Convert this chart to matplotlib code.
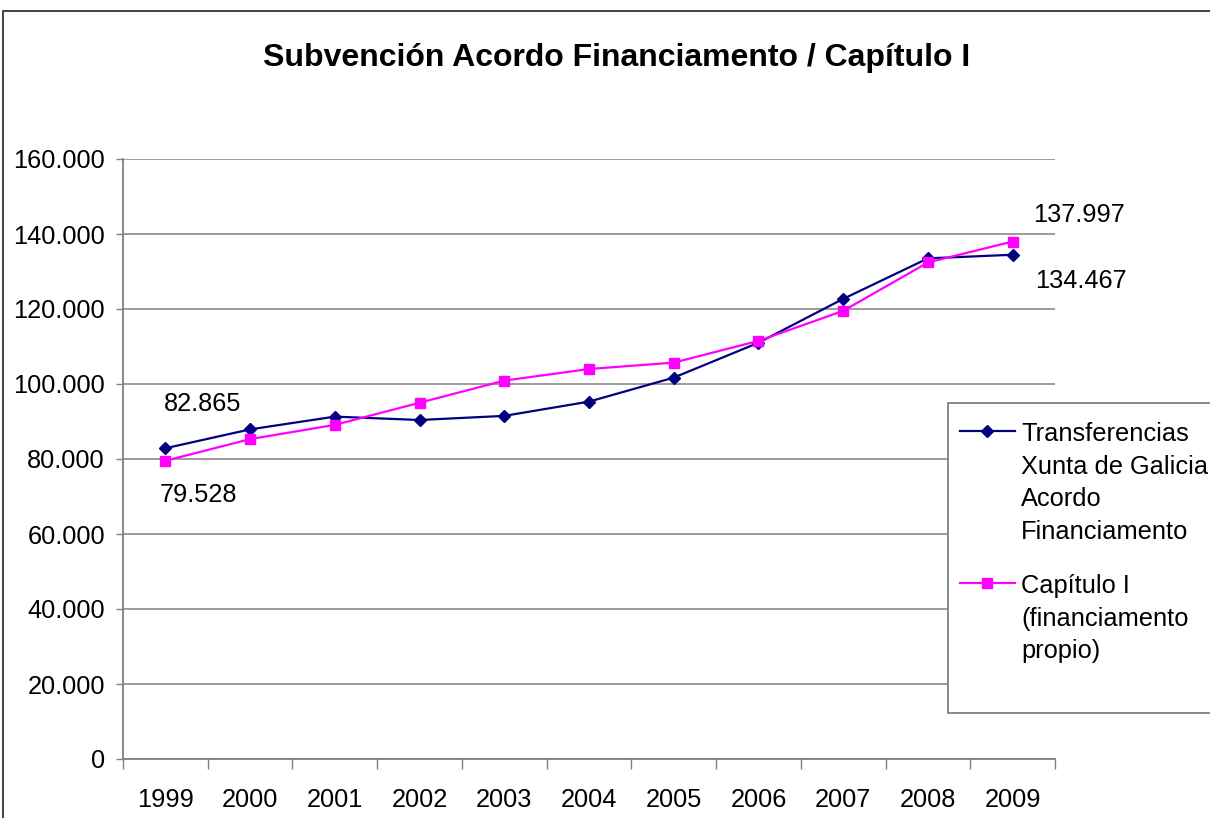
import matplotlib
matplotlib.use("Agg")
import matplotlib.pyplot as plt
from matplotlib.lines import Line2D
from matplotlib.patches import Rectangle
from matplotlib.ticker import FuncFormatter

plt.rcParams['font.family'] = ['Liberation Sans', 'DejaVu Sans']

# --- Data ---
years = ["1999", "2000", "2001", "2002", "2003", "2004",
         "2005", "2006", "2007", "2008", "2009"]
transferencias = [82865, 87900, 91300, 90400, 91500, 95300,
                  101700, 111000, 122700, 133500, 134467]
capitulo_i = [79528, 85300, 89100, 95000, 100900, 104000,
              105700, 111500, 119500, 132400, 137997]

NAVY = "#000080"
MAGENTA = "#FF00FF"
GRID = "#808080"
FS = 18.3

W, H = 1210, 818
fig = plt.figure(figsize=(W / 100, H / 100), dpi=100)
ax = fig.add_axes([123 / W, 1 - 759 / H, 932 / W, 600 / H])

x = list(range(len(years)))
ax.plot(x, transferencias, color=NAVY, lw=1.6, marker="D", ms=6.2,
        mfc=NAVY, mec=NAVY, zorder=3)
ax.plot(x, capitulo_i, color=MAGENTA, lw=1.6, marker="s", ms=7.8,
        mfc=MAGENTA, mec=MAGENTA, zorder=4)

# Axes cosmetics
ax.set_xlim(-0.5, len(years) - 0.5)
ax.set_ylim(0, 160000)
ax.set_yticks(range(0, 160001, 20000))
ax.yaxis.set_major_formatter(
    FuncFormatter(lambda v, p: f"{int(v):,}".replace(",", ".")))
ax.set_xticks(x)
ax.set_xticklabels(years)
ax.set_xticks([i - 0.5 for i in range(len(years) + 1)], minor=True)
ax.tick_params(axis="x", which="major", length=0, pad=21, labelsize=FS)
ax.tick_params(axis="x", which="minor", length=7, width=1, color=GRID)
ax.tick_params(axis="y", length=5, width=1, color=GRID, pad=8, labelsize=FS)

for s in ("top", "right"):
    ax.spines[s].set_visible(False)
for s in ("left", "bottom"):
    ax.spines[s].set_color(GRID)
    ax.spines[s].set_linewidth(1.3)
ax.grid(axis="y", color=GRID, lw=1.1)
ax.set_axisbelow(True)

# Data labels on first / last points
lab = lambda v: f"{v:,}".replace(",", ".")
ax.annotate(lab(transferencias[0]), (0, transferencias[0]), xytext=(27, 32),
            textcoords="offset points", ha="center", va="center", fontsize=FS)
ax.annotate(lab(capitulo_i[0]), (0, capitulo_i[0]), xytext=(24, -25),
            textcoords="offset points", ha="center", va="center", fontsize=FS)
ax.annotate(lab(capitulo_i[-1]), (10, capitulo_i[-1]), xytext=(48, 19),
            textcoords="offset points", ha="center", va="center", fontsize=FS,
            annotation_clip=False)
ax.annotate(lab(transferencias[-1]), (10, transferencias[-1]), xytext=(49, -19),
            textcoords="offset points", ha="center", va="center", fontsize=FS,
            annotation_clip=False)

# Title
fig.text(617 / W, 1 - 58 / H, "Subvención Acordo Financiamento / Capítulo I",
         ha="center", va="center", fontsize=23, fontweight="bold")

# Outer chart frame (runs off the right and bottom edges)
fig.add_artist(Rectangle((3 / W, -0.05), 1.1, 1.05 - 11 / H,
                         transform=fig.transFigure, fill=False,
                         ec="#333333", lw=1.3))

# Legend box (drawn by hand, runs off the right edge)
fig.add_artist(Rectangle((948 / W, 1 - 713 / H), 300 / W, 310 / H,
                         transform=fig.transFigure, fc="white",
                         ec=GRID, lw=1.3, zorder=5))
entries = [
    (NAVY, "D", 6.2, 431, "Transferencias\nXunta de Galicia\nAcordo\nFinanciamento"),
    (MAGENTA, "s", 7.8, 583, "Capítulo I\n(financiamento\npropio)"),
]
for col, mk, ms, yy, txt in entries:
    yf = 1 - yy / H
    fig.add_artist(Line2D([960 / W, 1015 / W], [yf, yf],
                          transform=fig.transFigure, color=col, lw=1.6,
                          zorder=6))
    fig.add_artist(Line2D([987 / W], [yf], transform=fig.transFigure,
                          color=col, marker=mk, ms=ms, zorder=7))
    fig.text(1021 / W, yf + 9 / H, txt, ha="left", va="top", fontsize=FS,
             linespacing=1.45, zorder=7)

fig.savefig("out.png", dpi=100)
